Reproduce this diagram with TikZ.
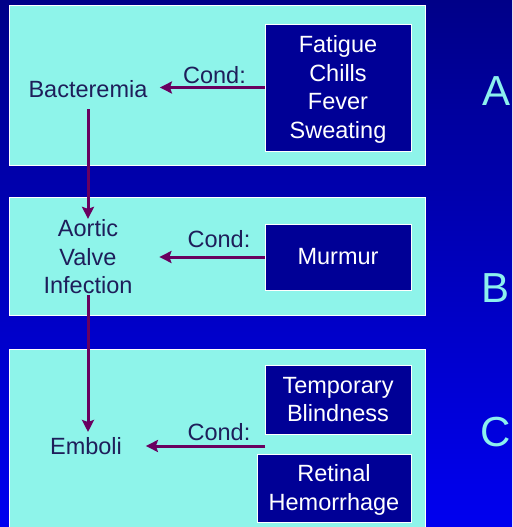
\documentclass[tikz,border=0pt]{standalone}
\usepackage{fontspec}
\setmainfont{Liberation Sans}
\usetikzlibrary{arrows.meta,calc}
\definecolor{bgtop}{RGB}{0,0,136}
\definecolor{bgbot}{RGB}{0,0,240}
\definecolor{panel}{RGB}{142,244,234}
\definecolor{boxblue}{RGB}{0,0,150}
\definecolor{labtext}{RGB}{30,30,90}
\definecolor{arrowpurple}{RGB}{105,0,95}
\definecolor{letter}{RGB}{140,240,238}
\begin{document}
\begin{tikzpicture}[x=1pt,y=-1pt,
 panelbox/.style={fill=panel,draw=white,line width=0.8pt},
 symbox/.style={fill=boxblue,draw=white,line width=0.8pt,text=white,align=center,font=\fontsize{23.5}{28.5}\selectfont,inner sep=0pt},
 lab/.style={text=labtext,align=center,font=\fontsize{23.5}{28.5}\selectfont,outer sep=0pt},
 cond/.style={text=labtext,font=\fontsize{23.5}{28.5}\selectfont,anchor=base,inner sep=0pt},
 arr/.style={draw=arrowpurple,line width=3pt,-{Stealth[length=12pt,width=12pt,inset=2pt]}},
 sect/.style={text=letter,font=\fontsize{42}{50}\selectfont,inner sep=0pt}]
\useasboundingbox (0,0) rectangle (512,527);
\shade[top color=bgtop,bottom color=bgbot] (0,0) rectangle (512,527);
% panels
\draw[panelbox] (9,5) rectangle (425,165);
\draw[panelbox] (9,197) rectangle (425,315);
\draw[panelbox] (9,349) rectangle (425,530);
% symptom boxes
\node[symbox,minimum width=146pt,minimum height=127pt] (fat) at (338,87.5) {\rule{0pt}{21pt}Fatigue\\Chills\\Fever\\Sweating};
\node[symbox,minimum width=146pt,minimum height=66pt] (mur) at (338,257) {Murmur};
\node[symbox,minimum width=146pt,minimum height=69pt] (temp) at (338,399.5) {Temporary\\Blindness};
\node[symbox,minimum width=154pt,minimum height=68pt] (ret) at (334,488) {\rule{0pt}{21pt}Retinal\\Hemorrhage};
% stage labels
\node[lab,anchor=base,inner xsep=12.5pt,inner ysep=12pt] (bact) at (88,97) {Bacteremia};
\node[lab,inner xsep=27pt,inner ysep=1pt] (aortic) at (88,257) {Aortic\\Valve\\Infection};
\node[lab,anchor=base,inner xsep=24pt,inner ysep=5pt] (emb) at (86,454) {Emboli};
% cond labels
\node[cond] (c1) at (214.5,83) {Cond:};
\node[cond] (c2) at (219,247) {Cond:};
\node[cond] (c3) at (219,440) {Cond:};
% arrows
\draw[arr] (fat.west) -- (fat.west -| bact.east);
\draw[arr] (mur.west) -- (mur.west -| aortic.east);
\coordinate (cstart) at (265,446);
\draw[arr] (cstart) -- (cstart -| emb.east);
\draw[arr] (bact.south) -- (aortic.north);
\draw[arr] (aortic.south) -- (aortic.south |- emb.north);
% section letters
\node[sect] (la) at (496,91) {A};
\node[sect] (lb) at (495,288) {B};
\node[sect] (lc) at (496,432) {C};
\end{tikzpicture}
\end{document}
